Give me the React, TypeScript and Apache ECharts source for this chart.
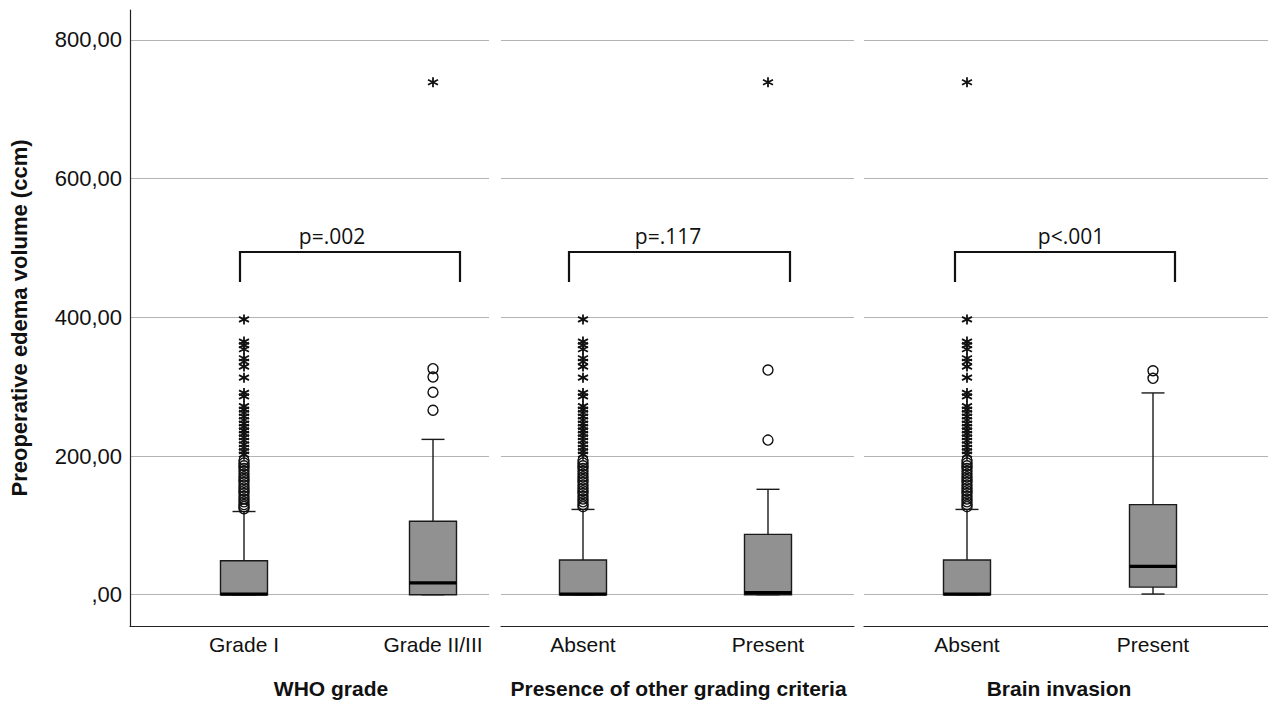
import React, { useEffect, useRef } from "react";
import * as echarts from "echarts";

// ---------- data ----------
const whoCategories = ["Grade I", "Grade II/III"];
const otherCategories = ["Absent", "Present"];
const invasionCategories = ["Absent", "Present"];

const panelTitles = ["WHO grade", "Presence of other grading criteria", "Brain invasion"];
const pValues = ["p=.002", "p=.117", "p<.001"];
const yTickValues = [0, 200, 400, 600, 800];

// [lower whisker, Q1, median, Q3, upper whisker]
const whoBoxes = [
  [0, 0, 1, 49, 120],
  [0, 0, 17, 106, 224],
];
const otherBoxes = [
  [0, 0, 1, 50, 123],
  [0, 0, 3, 87, 152],
];
const invasionBoxes = [
  [0, 0, 1, 50, 123],
  [1, 11, 41, 130, 291],
];

// outliers (circles) and extreme values (stars)
const gradeICircles = [194, 190, 186, 182, 178, 174, 170, 166, 162, 158, 154, 150, 146, 142, 138, 134, 130, 127, 124];
const gradeIStars = [397, 365, 360, 354, 341, 336, 329, 313, 291, 286, 272, 267, 262, 257, 252, 247, 242, 237, 232, 227, 222, 217, 212, 207, 202];
const gradeIICircles = [326, 314, 292, 266];
const gradeIIStars = [739];

const otherAbsentCircles = [194, 190, 186, 182, 178, 174, 170, 166, 162, 158, 154, 150, 146, 142, 138, 134, 130, 127];
const otherAbsentStars = [397, 365, 360, 354, 341, 336, 329, 313, 291, 286, 272, 267, 262, 257, 252, 247, 242, 237, 232, 227, 222, 217, 212, 207, 202];
const otherPresentCircles = [324, 223];
const otherPresentStars = [739];

const invasionAbsentCircles = [194, 190, 186, 182, 178, 174, 170, 166, 162, 158, 154, 150, 146, 142, 138, 134, 130, 127];
const invasionAbsentStars = [739, 397, 365, 360, 354, 341, 336, 329, 313, 291, 286, 272, 267, 262, 257, 252, 247, 242, 237, 232, 227, 222, 217, 212, 207, 202];
const invasionPresentCircles = [323, 312];
const invasionPresentStars: number[] = [];

// ---------- layout ----------
const Y_MIN = -45.1;
const Y_MAX = 843.2;
const GRID_TOP = 10;
const GRID_HEIGHT = 616;
const bgPanels = [
  { left: 130, width: 359 },
  { left: 501, width: 353 },
  { left: 864, width: 404 },
];
const boxPanels = [
  { left: 149.5, width: 378, namePad: [0, 15, 0, 0] },
  { left: 490.5, width: 370, namePad: [0, 0, 0, 6] },
  { left: 874, width: 372, namePad: [0, 2, 0, 0] },
];
const brackets = [
  { x1: 240, x2: 460, tx: 332 },
  { x1: 569, x2: 790, tx: 668 },
  { x1: 955, x2: 1175, tx: 1071 },
];
const BRACKET_TOP = 252;
const BRACKET_BOTTOM = 282;

const FONT = "'Liberation Sans', Arial, sans-serif";
const STAR = "path://M5,0L5,10M0.67,2.5L9.33,7.5M0.67,7.5L9.33,2.5";

function fmt(v: number) {
  if (v === 0) return ",00";
  return v.toFixed(2).replace(".", ",");
}

export default function App() {
  const ref = useRef<HTMLDivElement>(null);

  useEffect(() => {
    if (!ref.current) return;
    const chart = echarts.init(ref.current, undefined, { renderer: "svg" });

    const grids: any[] = [];
    const xAxes: any[] = [];
    const yAxes: any[] = [];
    const series: any[] = [];

    bgPanels.forEach((p, i) => {
      grids.push({ left: p.left, width: p.width, top: GRID_TOP, height: GRID_HEIGHT });
      xAxes.push({
        gridIndex: i,
        type: "value",
        min: 0,
        max: 1,
        axisLine: { show: true, onZero: false, lineStyle: { color: "#222", width: 1.2 } },
        axisTick: { show: false },
        axisLabel: { show: false },
        splitLine: { show: false },
      });
      yAxes.push({
        gridIndex: i,
        type: "value",
        min: Y_MIN,
        max: Y_MAX,
        minInterval: 200,
        maxInterval: 200,
        axisLine: { show: i === 0, lineStyle: { color: "#222", width: 1.2 } },
        axisTick: { show: false },
        axisLabel: {
          show: i === 0,
          showMinLabel: false,
          showMaxLabel: false,
          formatter: (v: number) => (yTickValues.includes(v) ? fmt(v) : ""),
          fontFamily: FONT,
          fontSize: 22,
          color: "#111",
          margin: 8,
        },
        splitLine: {
          show: true,
          showMinLine: false,
          showMaxLine: false,
          lineStyle: { color: "#b4b4b4", width: 1.2 },
        },
        name: i === 0 ? "Preoperative edema volume (ccm)" : "",
        nameLocation: "middle",
        nameRotate: 90,
        nameGap: 100,
        nameTextStyle: { fontFamily: FONT, fontSize: 22, fontWeight: "bold", color: "#111" },
      });
    });

    const cats = [whoCategories, otherCategories, invasionCategories];
    const boxes = [whoBoxes, otherBoxes, invasionBoxes];
    const circles = [
      [gradeICircles, gradeIICircles],
      [otherAbsentCircles, otherPresentCircles],
      [invasionAbsentCircles, invasionPresentCircles],
    ];
    const stars = [
      [gradeIStars, gradeIIStars],
      [otherAbsentStars, otherPresentStars],
      [invasionAbsentStars, invasionPresentStars],
    ];

    boxPanels.forEach((p, k) => {
      const gi = 3 + k;
      grids.push({ left: p.left, width: p.width, top: GRID_TOP, height: GRID_HEIGHT });
      xAxes.push({
        gridIndex: gi,
        type: "category",
        data: cats[k],
        boundaryGap: true,
        axisLine: { show: false },
        axisTick: { show: false },
        splitLine: { show: false },
        axisLabel: { fontFamily: FONT, fontSize: 21, color: "#111", margin: 8 },
        name: panelTitles[k],
        nameLocation: "middle",
        nameGap: 52,
        nameTextStyle: {
          fontFamily: FONT,
          fontSize: 21,
          fontWeight: "bold",
          color: "#111",
          padding: p.namePad,
        },
      });
      yAxes.push({
        gridIndex: gi,
        type: "value",
        min: Y_MIN,
        max: Y_MAX,
        show: false,
        splitLine: { show: false },
      });

      series.push({
        type: "custom",
        xAxisIndex: gi,
        yAxisIndex: gi,
        encode: { x: 0, y: [1, 2, 3, 4, 5] },
        data: boxes[k].map((b, idx) => [idx, ...b]),
        renderItem: (params: any, api: any) => {
          const x = api.value(0);
          const lo = api.coord([x, api.value(1)]);
          const q1 = api.coord([x, api.value(2)]);
          const med = api.coord([x, api.value(3)]);
          const q3 = api.coord([x, api.value(4)]);
          const hi = api.coord([x, api.value(5)]);
          const cx = lo[0];
          const bw = 47;
          const cw = 23;
          const lineStyle = { stroke: "#1a1a1a", lineWidth: 1.4 };
          return {
            type: "group",
            children: [
              { type: "line", shape: { x1: cx, y1: hi[1], x2: cx, y2: q3[1] }, style: lineStyle },
              { type: "line", shape: { x1: cx, y1: q1[1], x2: cx, y2: lo[1] }, style: lineStyle },
              { type: "line", shape: { x1: cx - cw / 2, y1: hi[1], x2: cx + cw / 2, y2: hi[1] }, style: lineStyle },
              { type: "line", shape: { x1: cx - cw / 2, y1: lo[1], x2: cx + cw / 2, y2: lo[1] }, style: lineStyle },
              {
                type: "rect",
                shape: { x: cx - bw / 2, y: q3[1], width: bw, height: q1[1] - q3[1] },
                style: { fill: "#919191", stroke: "#1a1a1a", lineWidth: 1.4 },
              },
              {
                type: "rect",
                shape: { x: cx - bw / 2, y: med[1] - 1.6, width: bw, height: 3.2 },
                style: { fill: "#000" },
              },
            ],
          };
        },
        z: 3,
      });

      const circleData: number[][] = [];
      circles[k].forEach((arr, idx) => arr.forEach((v) => circleData.push([idx, v])));
      series.push({
        type: "scatter",
        xAxisIndex: gi,
        yAxisIndex: gi,
        data: circleData,
        symbol: "circle",
        symbolSize: 10,
        itemStyle: { color: "rgba(0,0,0,0)", borderColor: "#111", borderWidth: 1.4, opacity: 1 },
        z: 4,
      });

      const starData: number[][] = [];
      stars[k].forEach((arr, idx) => arr.forEach((v) => starData.push([idx, v])));
      series.push({
        type: "scatter",
        xAxisIndex: gi,
        yAxisIndex: gi,
        data: starData,
        symbol: STAR,
        symbolSize: 10,
        itemStyle: { color: "rgba(0,0,0,0)", borderColor: "#111", borderWidth: 1.8, opacity: 1 },
        z: 4,
      });
    });

    const graphics: any[] = [];
    brackets.forEach((b, i) => {
      graphics.push({
        type: "polyline",
        shape: {
          points: [
            [b.x1, BRACKET_BOTTOM],
            [b.x1, BRACKET_TOP],
            [b.x2, BRACKET_TOP],
            [b.x2, BRACKET_BOTTOM],
          ],
        },
        style: { stroke: "#111", lineWidth: 2.2, fill: null },
      });
      graphics.push({
        type: "text",
        x: b.tx,
        y: 236,
        style: {
          text: pValues[i],
          fontFamily: "'Open Sans', 'Liberation Sans', sans-serif",
          fontSize: 21,
          fill: "#111",
          align: "center",
          verticalAlign: "middle",
        },
      });
    });

    chart.setOption({
      animation: false,
      backgroundColor: "#fff",
      grid: grids,
      xAxis: xAxes,
      yAxis: yAxes,
      series,
      graphic: graphics,
    });

    return () => chart.dispose();
  }, []);

  return (
    <div
      ref={ref}
      style={{ position: "fixed", left: 0, top: 0, width: 1268, height: 704, background: "#fff" }}
    />
  );
}
